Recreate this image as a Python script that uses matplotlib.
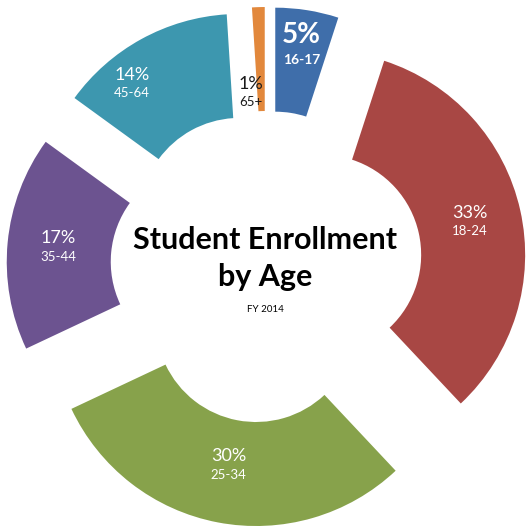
import matplotlib
matplotlib.use("Agg")
import matplotlib.pyplot as plt
import numpy as np

# Enrollment share by age group, FY 2014 (clockwise from 12 o'clock)
age_groups = ["16-17", "18-24", "25-34", "35-44", "45-64", "65+"]
shares = [5, 33, 30, 17, 14, 1]
slice_colors = ["#3F6EAA", "#A84744", "#87A24B", "#6C5390", "#3D97AF", "#E2883C"]

W, H = 529, 526
R_OUT = 204          # outer radius of the ring (px)
RING = 104           # ring thickness (px)
PULL = 56            # distance each slice is pulled out from the centre (px)
CX, CY = 266.5, H - 267
# label placement relative to each slice's own centre:
# distance (px) and angular nudge from the slice's mid-angle (deg, CCW)
LABEL_R = [166, 152, 146, 153, 172, 120]
LABEL_NUDGE = [0, 0, 0, 0, 10, 0]

plt.rcParams["font.family"] = ["Lato", "DejaVu Sans"]

fig = plt.figure(figsize=(W / 100, H / 100), dpi=100)
ax = fig.add_axes([0, 0, 1, 1])

wedges, _ = ax.pie(
    shares,
    radius=R_OUT,
    center=(CX, CY),
    startangle=90,
    counterclock=False,
    explode=[PULL] * len(shares),
    colors=slice_colors,
    wedgeprops=dict(width=RING, linewidth=0),
)
ax.set_xlim(0, W)
ax.set_ylim(0, H)
ax.set_aspect("equal")
ax.axis("off")

# Slice labels: percentage on top, age band below
for w, grp, val, r_lab, nudge in zip(wedges, age_groups, shares, LABEL_R, LABEL_NUDGE):
    mid = np.deg2rad((w.theta1 + w.theta2) / 2 + nudge)
    x0, y0 = w.center
    if grp == "65+":
        # thin slice: label sits just left of it, in dark text
        lx, ly = x0 - 14, y0 + r_lab - 2
        ax.text(lx, ly + 9, f"{val}%", ha="center", va="center",
                fontsize=13, color="#1a1a1a")
        ax.text(lx, ly - 9, grp, ha="center", va="center",
                fontsize=9.5, color="#1a1a1a")
        continue
    lx = x0 + r_lab * np.cos(mid)
    ly = y0 + r_lab * np.sin(mid)
    if grp == "16-17":
        ax.text(lx, ly + 12.5, f"{val}%", ha="center", va="center",
                fontsize=20, fontweight="bold", color="white")
        ax.text(lx, ly - 12.5, grp, ha="center", va="center",
                fontsize=10, fontweight="bold", color="white")
    else:
        ax.text(lx, ly + 9, f"{val}%", ha="center", va="center",
                fontsize=13, color="white")
        ax.text(lx, ly - 9.5, grp, ha="center", va="center",
                fontsize=9.5, color="white")

# Centre title
ax.text(265, H - 240, "Student Enrollment", ha="center", va="center",
        fontsize=22, fontweight="bold", color="black")
ax.text(265, H - 277, "by Age", ha="center", va="center",
        fontsize=22, fontweight="bold", color="black")
ax.text(265, H - 310, "FY 2014", ha="center", va="center",
        fontsize=7, color="black")

fig.savefig("out.png", dpi=100, facecolor="white")
